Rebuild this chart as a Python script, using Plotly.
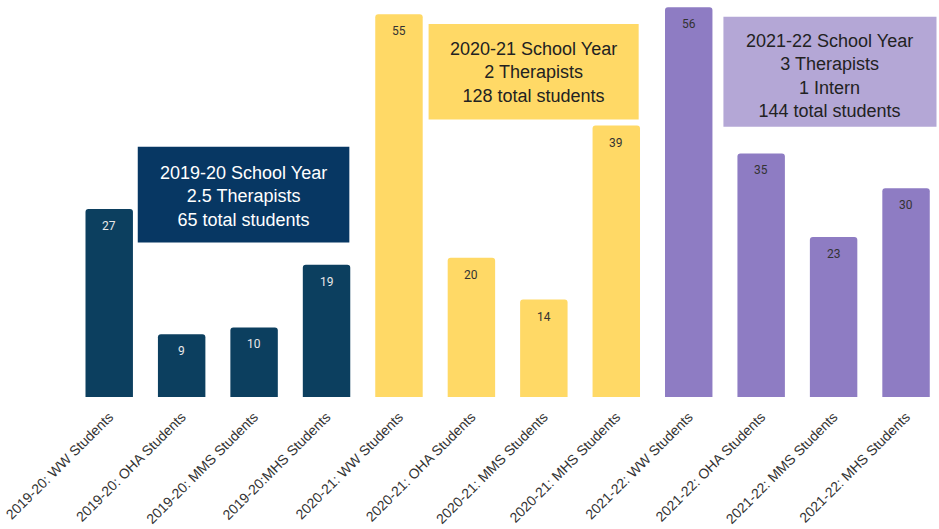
import plotly.graph_objects as go

categories = [
    "2019-20: WW Students", "2019-20: OHA Students", "2019-20: MMS Students", "2019-20:MHS Students",
    "2020-21: WW Students", "2020-21: OHA Students", "2020-21: MMS Students", "2020-21: MHS Students",
    "2021-22: WW Students", "2021-22: OHA Students", "2021-22: MMS Students", "2021-22: MHS Students",
]
values = [27, 9, 10, 19, 55, 20, 14, 39, 56, 35, 23, 30]
bar_colors = ["#0c3f5f"] * 4 + ["#ffd966"] * 4 + ["#8e7cc3"] * 4
label_colors = ["#e8e8e8"] * 4 + ["#333333"] * 8

box_texts = [
    "2019-20 School Year<br>2.5 Therapists<br>65 total students",
    "2020-21 School Year<br>2 Therapists<br>128 total students",
    "2021-22 School Year<br>3 Therapists<br>1 Intern<br>144 total students",
]
box_fill = ["#073763", "#ffd966", "#b4a7d6"]
box_font = ["#ffffff", "#222222", "#222222"]

W, H = 939, 529
ML, MB = 72.5, 132.3
PW, PH = W - ML, H - MB
XMIN = -0.5
XSPAN = PW / 72.48
YMAX = PH / 6.955


def px2x(px):
    return XMIN + (px - ML) / 72.48


def py2y(py):
    return (PH - py) / 6.955


fig = go.Figure()
fig.add_trace(go.Bar(
    x=list(range(len(categories))), y=values,
    marker=dict(color=bar_colors, cornerradius=3, line=dict(width=0)),
    hoverinfo="x+y",
))

annotations = []
for i, v in enumerate(values):
    annotations.append(dict(
        x=i, y=v, xref="x", yref="y", text=str(v), showarrow=False,
        yshift=-17, yanchor="middle",
        font=dict(family="Roboto", size=12, color=label_colors[i]),
    ))

boxes = [
    (137.3, 349.0, 146.7, 242.3),
    (428.3, 638.5, 24.0, 119.3),
    (723.3, 936.5, 16.7, 126.7),
]
text_centers = [196, 72, 76]
shapes = []
for (x0, x1, y0, y1), tc, fill, txt, fc in zip(boxes, text_centers, box_fill, box_texts, box_font):
    shapes.append(dict(type="rect", xref="x", yref="y",
                       x0=px2x(x0), x1=px2x(x1), y0=py2y(y1), y1=py2y(y0),
                       fillcolor=fill, line=dict(width=0), layer="above"))
    annotations.append(dict(
        x=px2x((x0 + x1) / 2), y=py2y(tc), xref="x", yref="y",
        text=txt, showarrow=False, align="center", yanchor="middle",
        font=dict(family="Liberation Sans, Arial", size=18, color=fc),
    ))

fig.update_layout(
    width=W, height=H,
    margin=dict(l=ML, r=0, t=0, b=MB, autoexpand=False),
    paper_bgcolor="white", plot_bgcolor="white",
    bargap=0.345,
    showlegend=False,
    shapes=shapes,
    annotations=annotations,
    xaxis=dict(
        range=[XMIN, XMIN + XSPAN],
        tickmode="array", tickvals=list(range(len(categories))), ticktext=categories,
        tickangle=-45, showgrid=False, zeroline=False, showline=False, ticks="",
        ticklabelstandoff=8,
        tickfont=dict(family="Liberation Sans, Arial", size=14, color="#333333"),
        automargin=False,
    ),
    yaxis=dict(range=[0, YMAX], visible=False, showgrid=False, zeroline=False, fixedrange=True),
)

fig.write_html("out.html")
